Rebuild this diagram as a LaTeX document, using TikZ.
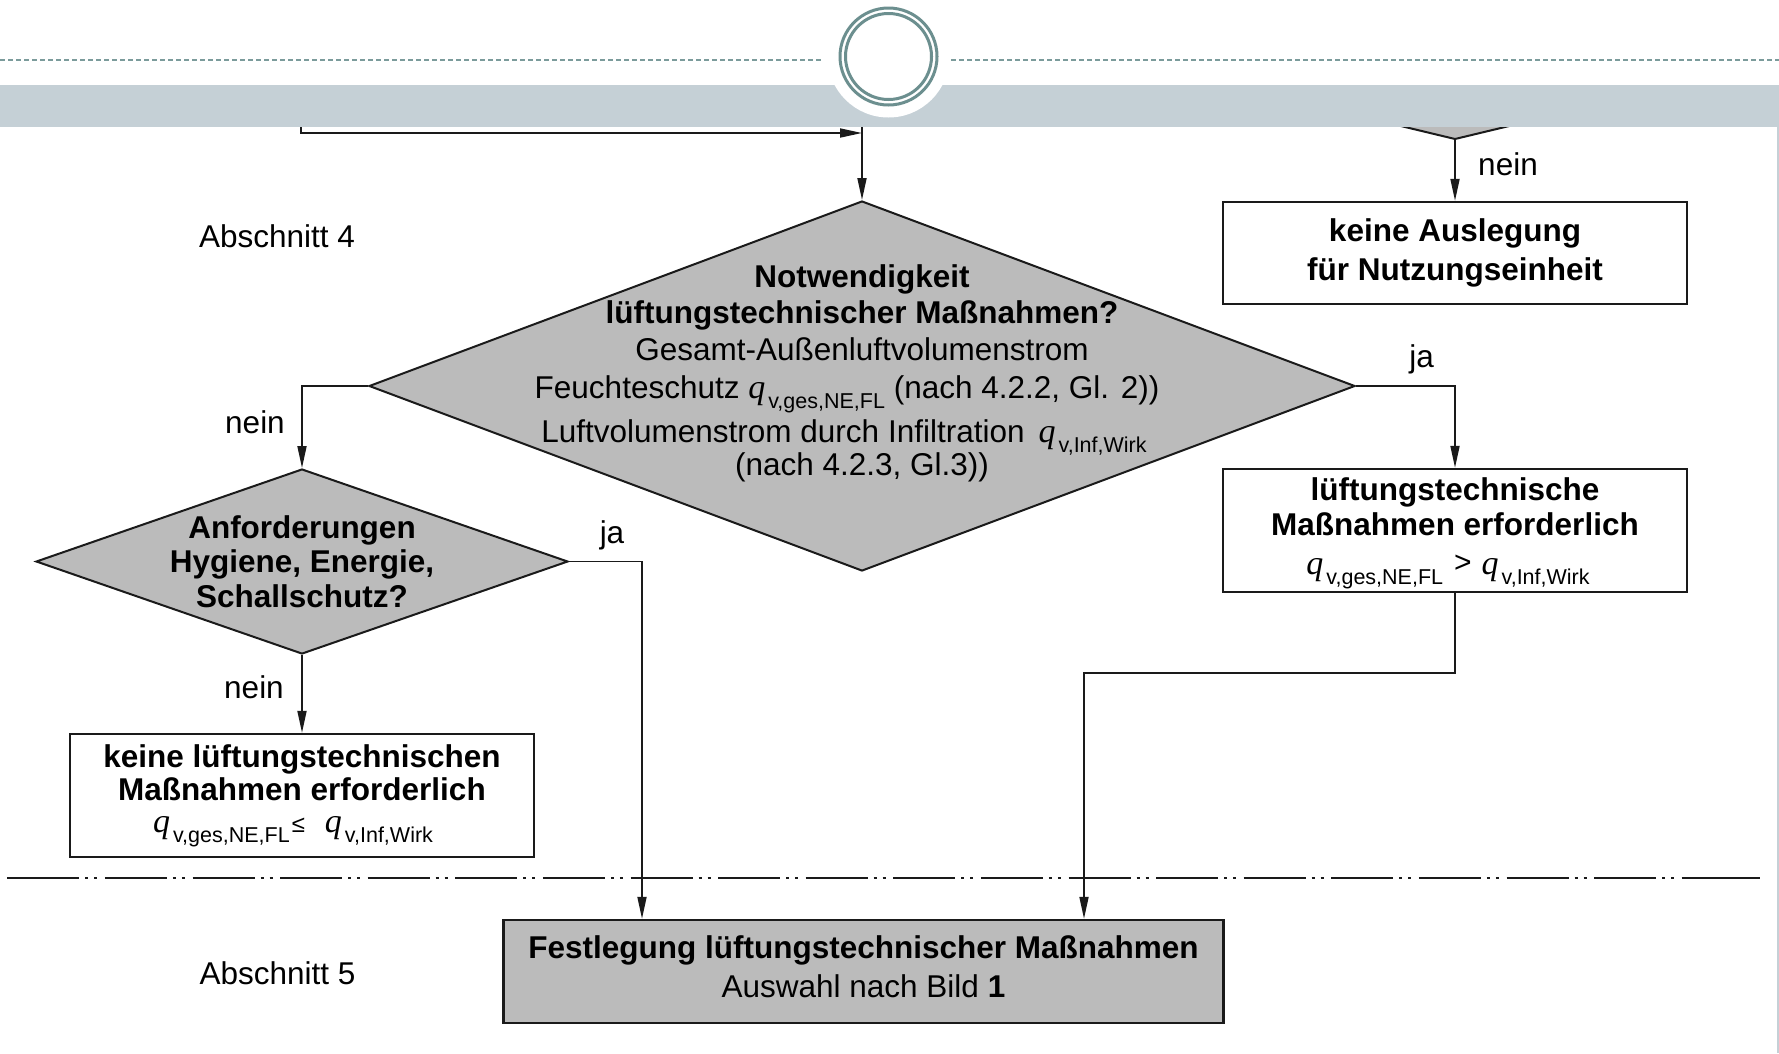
\documentclass[tikz,border=0pt]{standalone}
\usepackage{fontspec}
\setmainfont{Liberation Sans}
\newfontfamily\qfont{Liberation Serif}
\usetikzlibrary{arrows.meta,shapes.geometric}
\setlength{\lineskiplimit}{-100pt}
\definecolor{bandc}{RGB}{197,208,214}
\definecolor{ringc}{RGB}{108,143,143}
\definecolor{dashc}{RGB}{123,155,155}
\definecolor{diafill}{RGB}{187,187,187}
\definecolor{linec}{RGB}{26,26,26}
\newcommand\qv[1]{{\qfont\itshape\fontsize{34}{34}\selectfont q}\kern3pt\raisebox{-10pt}{\fontsize{21.5}{21.5}\selectfont #1}}
\newcommand\fs[1]{\fontsize{31.5}{#1}\selectfont}
\newcommand\xdp[1]{\rule[-#1]{0pt}{#1}}
\tikzset{
  conn/.style={line width=1.8pt, draw=linec, -{Triangle[length=22pt,width=9pt]}},
  boxnode/.style={draw=linec, line width=2.4pt, fill=white, inner sep=0pt, align=center},
  greybox/.style={boxnode, fill=diafill},
  dianode/.style={shape=diamond, draw=linec, line width=2pt, fill=diafill, inner sep=0pt},
  txt/.style={inner sep=0pt, align=center},
  lbl/.style={inner sep=0pt, anchor=base, font=\fs{36}},
}
\begin{document}
\begin{tikzpicture}[x=1pt,y=-1pt,line join=miter]
\useasboundingbox (0,0) rectangle (1779,1053);
\fill[white] (0,0) rectangle (1779,1053);

% partial diamond at top right (cut by the band)
\fill[diafill] (1380,121) -- (1455,139) -- (1530,121) -- cycle;
\draw[linec, line width=2pt] (1380,121) -- (1455,139) -- (1530,121);
\coordinate (rt) at (1455,139);

% main diamond
\node[dianode, minimum width=986pt, minimum height=370pt] (d1) at (862,386) {};
\node[txt, font=\fs{36.5}] (d1t) at (862,373) {%
{\bfseries Notwendigkeit}\\
{\bfseries lüftungstechnischer Maßnahmen?}\\
Gesamt-Außenluftvolumenstrom\\[1.5pt]
Feuchteschutz \qv{v,ges,NE,FL} (nach 4.2.2, Gl. 2))\rule{30pt}{0pt}\\[7.5pt]
Luftvolumenstrom durch Infiltration\hspace{14pt}\qv{v,Inf,Wirk}\rule{36pt}{0pt}\\[-3.5pt]
(nach 4.2.3, Gl.3))};

% small diamond
\node[dianode, minimum width=532pt, minimum height=185pt] (d2) at (302,561.5) {};
\node[txt, font=\fs{34.5}\bfseries] (d2t) at (302,561.5) {Anforderungen\\Hygiene, Energie,\\Schallschutz?};

% boxes
\node[boxnode, minimum width=464pt, minimum height=102pt, font=\fs{39}\bfseries] (bA) at (1455,253)
  {keine Auslegung\\für Nutzungseinheit\xdp{7.6pt}};
\node[boxnode, minimum width=464pt, minimum height=123pt, font=\fs{35}] (bB) at (1455,530.5)
  {{\bfseries\rule{0pt}{28.5pt}lüftungstechnische}\\{\bfseries Maßnahmen erforderlich}\\[4pt]
   \qv{v,ges,NE,FL}\hspace{11pt}\raisebox{2pt}{\fontsize{30}{30}\selectfont >}\hspace{10pt}\qv{v,Inf,Wirk}\rule{14pt}{0pt}};
\node[boxnode, minimum width=464pt, minimum height=123pt, font=\fs{33}] (bC) at (302,795.5)
  {{\bfseries keine lüftungstechnischen}\\{\bfseries Maßnahmen erforderlich}\\[-1pt]
   \qv{v,ges,NE,FL}\hspace{2pt}{\fontsize{24}{24}\selectfont ≤}\hspace{20pt}\qv{v,Inf,Wirk}\rule{18pt}{0pt}};
\node[greybox, minimum width=720pt, minimum height=103pt, font=\fs{39}] (bD) at (863.5,971.5)
  {{\bfseries Festlegung lüftungstechnischer Maßnahmen}\\Auswahl nach Bild \textbf{1}\xdp{10pt}};

% section labels
\node[lbl] (ab4) at (277,247) {Abschnitt 4};
\node[lbl] (ab5) at (277.5,984) {Abschnitt 5};

% connectors
\coordinate (tl) at (301,110);
\coordinate (tj) at (862,133);
\coordinate (tc) at (862,110);
\draw[conn] (tl) |- (tj);
\draw[conn] (tc) -- (d1.north);
\draw[conn] (rt) -- (bA.north);
\node[lbl] (n1) at (1508,175) {nein};
\draw[conn] (d1.east) -| (bB.north);
\node[lbl] (j1) at (1421.5,367) {ja};
\draw[conn] (d1.west) -| (d2.north);
\node[lbl] (n2) at (255,433) {nein};
\draw[conn] (d2.south) -- (bC.north);
\node[lbl] (n3) at (254,698) {nein};
\coordinate (xa) at (642,560);
\draw[conn] (d2.east) -| (xa |- bD.north);
\node[lbl] (j2) at (612,543) {ja};
\coordinate (xb) at (1084,673);
\draw[conn] (bB.south) |- (xb) -- (xb |- bD.north);

% section separator (dash-dot-dot)
\draw[linec, line width=2.4pt, dash pattern=on 62pt off 6pt on 3pt off 6pt on 3pt off 7.6pt] (17.3,878) -- (1759,878);
\draw[linec, line width=2.4pt] (7,878) -- (20,878);
\draw[linec, line width=2.4pt] (1740,878) -- (1759,878);

% slide header decoration
\fill[bandc] (0,85) rectangle (1779,127);
\fill[white] (888.5,56.5) circle (61);
\draw[ringc, line width=3pt] (888.5,56.5) circle (48.5);
\draw[ringc, line width=3pt] (888.5,56.5) circle (43);
\draw[dashc, line width=2pt, dash pattern=on 5pt off 3pt] (0,60) -- (823,60);
\draw[dashc, line width=2pt, dash pattern=on 5pt off 3pt] (951,60) -- (1779,60);
\draw[bandc, line width=1.5pt] (1778,127) -- (1778,1053);
\end{tikzpicture}
\end{document}
